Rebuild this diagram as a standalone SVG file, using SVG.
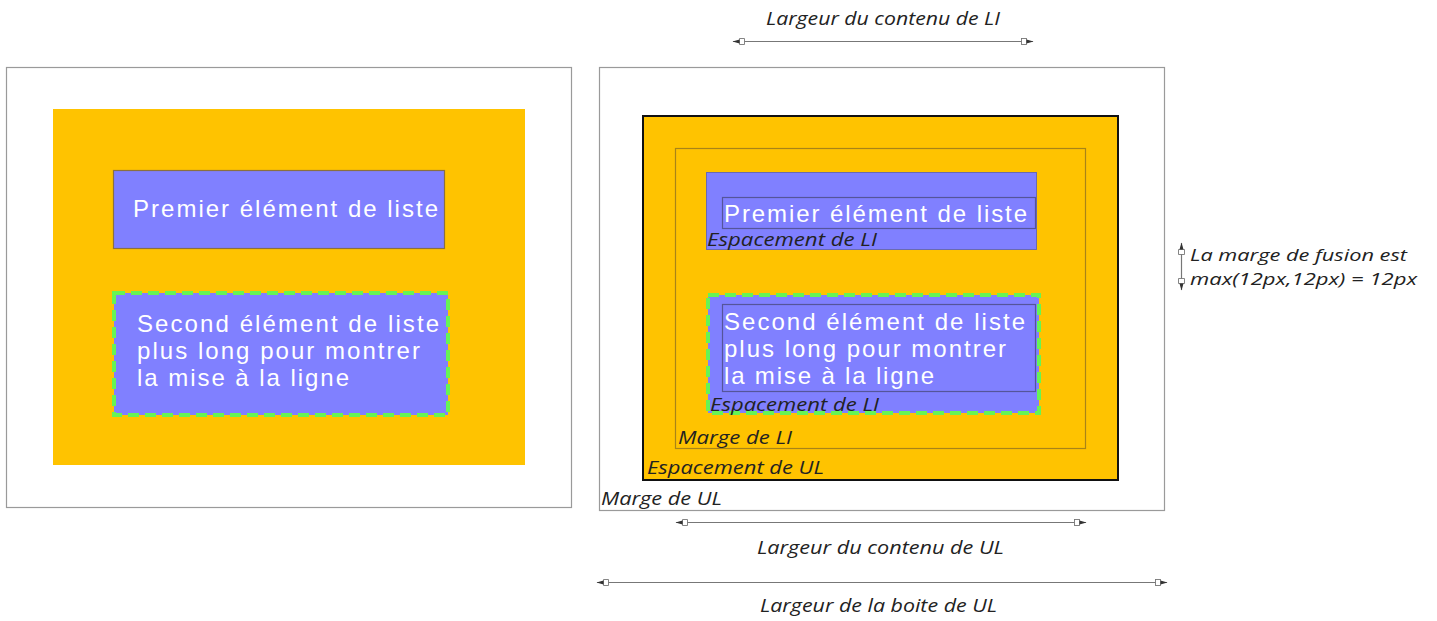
<svg xmlns="http://www.w3.org/2000/svg" width="1437" height="621" viewBox="0 0 1437 621">
<style>
.frame{fill:#fff;stroke:#9a9a9a;stroke-width:1.2}
.ul{fill:#FFC300}
.li{fill:#8080FF}
.li1{stroke:#8a7040;stroke-width:1.2}
.li2{stroke:#66F455;stroke-width:4;stroke-dasharray:11 6}
.cbox{fill:none;stroke:#55559a;stroke-width:1.2}
.wt{font-family:"Liberation Sans",Arial,sans-serif;font-size:24px;fill:#fff}
.lab{font-family:"Open Sans","Noto Sans",sans-serif;font-style:italic;font-size:18.5px;fill:#222}
.note{font-size:16.5px}
.dim{stroke:#777;stroke-width:1.2;fill:none}
</style>
<defs>
<marker id="hd" viewBox="0 0 14 10" refX="13" refY="5" markerWidth="14" markerHeight="10" markerUnits="userSpaceOnUse" orient="auto-start-reverse">
<rect x="1.5" y="2" width="5" height="6" fill="#fff" stroke="#777" stroke-width="0.9"/>
<path d="M6.5,3 L13.5,5 L6.5,7 Z" fill="#333"/>
</marker>
</defs>

<g id="left-panel">
<rect class="frame" x="6.5" y="67.5" width="565" height="440"/>
<rect class="ul" x="53" y="109" width="472" height="356"/>
</g>
<g id="left-li1">
<rect class="li li1" x="113.5" y="170.5" width="331" height="78"/>
<text class="wt" x="133" y="217" textLength="305" lengthAdjust="spacing">Premier élément de liste</text>
</g>
<g id="left-li2">
<rect class="li li2" x="114" y="293" width="334" height="122"/>
<text class="wt" x="137" y="332" textLength="302" lengthAdjust="spacing">Second élément de liste</text>
<text class="wt" x="137" y="359" textLength="283" lengthAdjust="spacing">plus long pour montrer</text>
<text class="wt" x="137" y="386" textLength="212" lengthAdjust="spacing">la mise à la ligne</text>
</g>

<g id="right-panel">
<rect class="frame" x="599.5" y="67.5" width="565" height="443"/>
<rect class="ul" x="643" y="116" width="475" height="364" stroke="#111" stroke-width="2"/>
<rect x="675.5" y="148.5" width="410" height="300" fill="none" stroke="#a88418" stroke-width="1.2"/>
</g>
<g id="right-li1">
<rect class="li" x="706.5" y="172.5" width="330" height="77" stroke="#6a6ab0" stroke-width="1"/>
<rect class="cbox" x="722.5" y="197.5" width="313" height="31"/>
<text class="wt" x="724" y="222" textLength="303" lengthAdjust="spacing">Premier élément de liste</text>
<text class="lab" x="707" y="246" textLength="170" lengthAdjust="spacingAndGlyphs">Espacement de LI</text>
</g>
<g id="right-li2">
<rect class="li li2" x="708" y="295" width="331" height="118"/>
<rect class="cbox" x="722.5" y="304.5" width="313" height="87"/>
<text class="wt" x="724" y="330" textLength="301" lengthAdjust="spacing">Second élément de liste</text>
<text class="wt" x="724" y="357" textLength="282" lengthAdjust="spacing">plus long pour montrer</text>
<text class="wt" x="724" y="384" textLength="210" lengthAdjust="spacing">la mise à la ligne</text>
<text class="lab" x="710" y="411" textLength="169" lengthAdjust="spacingAndGlyphs">Espacement de LI</text>
</g>
<g id="labels">
<text class="lab" x="678" y="444" textLength="114" lengthAdjust="spacingAndGlyphs">Marge de LI</text>
<text class="lab" x="647" y="474" textLength="177" lengthAdjust="spacingAndGlyphs">Espacement de UL</text>
<text class="lab" x="601" y="505" textLength="121" lengthAdjust="spacingAndGlyphs">Marge de UL</text>
<text class="lab" x="766" y="25" textLength="234" lengthAdjust="spacingAndGlyphs">Largeur du contenu de LI</text>
<text class="lab" x="757" y="554" textLength="247" lengthAdjust="spacingAndGlyphs">Largeur du contenu de UL</text>
<text class="lab" x="760" y="612" textLength="237" lengthAdjust="spacingAndGlyphs">Largeur de la boite de UL</text>
<text class="lab note" x="1190" y="261" textLength="217" lengthAdjust="spacingAndGlyphs">La marge de fusion est</text>
<text class="lab note" x="1190" y="285" textLength="227" lengthAdjust="spacingAndGlyphs">max(12px,12px) = 12px</text>
</g>
<g id="connectors">
<line class="dim" x1="733" y1="41.5" x2="1033" y2="41.5" marker-start="url(#hd)" marker-end="url(#hd)"/>
<line class="dim" x1="676" y1="522.5" x2="1086" y2="522.5" marker-start="url(#hd)" marker-end="url(#hd)"/>
<line class="dim" x1="597" y1="582.5" x2="1167" y2="582.5" marker-start="url(#hd)" marker-end="url(#hd)"/>
<line class="dim" x1="1181.5" y1="243" x2="1181.5" y2="290" marker-start="url(#hd)" marker-end="url(#hd)"/>
</g>
</svg>
